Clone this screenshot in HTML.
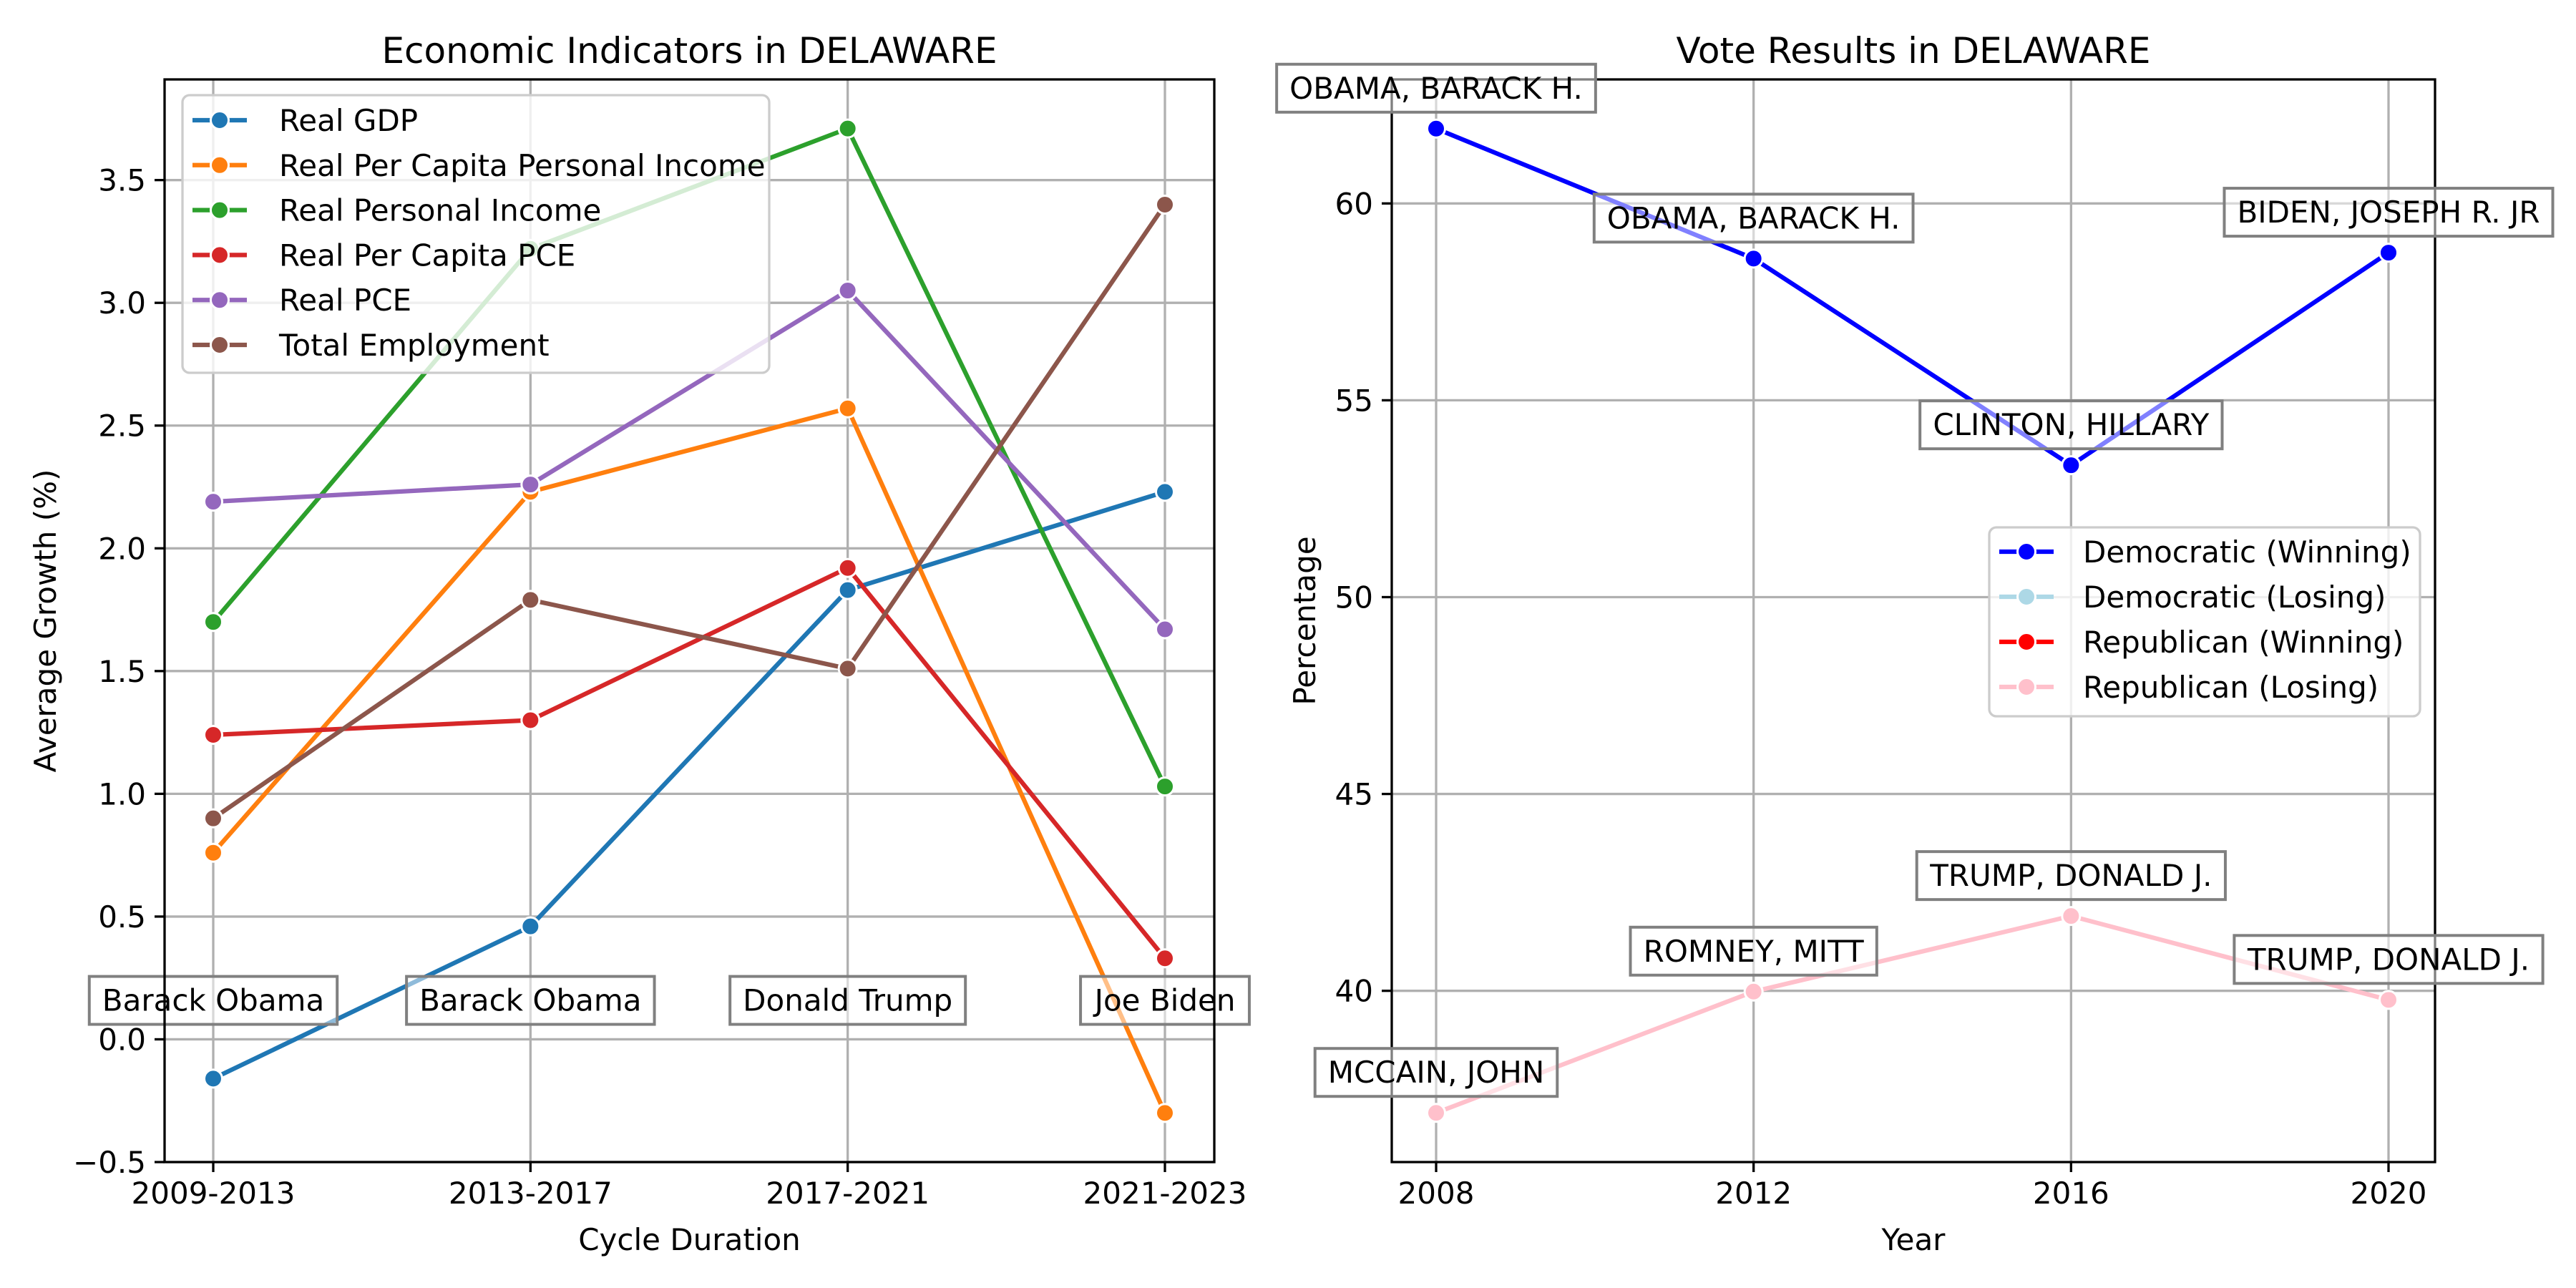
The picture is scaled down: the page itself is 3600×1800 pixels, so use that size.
<!DOCTYPE html>
<html><head><meta charset="utf-8"><style>
html,body{margin:0;padding:0;background:#fff}
svg{display:block}
text{font-family:"DejaVu Sans","Liberation Sans",sans-serif}
</style></head><body>
<svg id="chart" width="3600" height="1800" viewBox="0 0 3600 1800" xmlns="http://www.w3.org/2000/svg">
<rect width="3600" height="1800" fill="#fff"/>
<g id="left"></g>
<g id="right"></g>
</svg>
<script>
const cycles = ["2009-2013","2013-2017","2017-2021","2021-2023"];
const presidents = ["Barack Obama","Barack Obama","Donald Trump","Joe Biden"];
const seriesNames = ["Real GDP","Real Per Capita Personal Income","Real Personal Income","Real Per Capita PCE","Real PCE","Total Employment"];
const gdp = [-0.16,0.46,1.83,2.23];
const perCapitaIncome = [0.76,2.23,2.57,-0.30];
const personalIncome = [1.70,3.22,3.71,1.03];
const perCapitaPce = [1.24,1.30,1.92,0.33];
const realPce = [2.19,2.26,3.05,1.67];
const employment = [0.90,1.79,1.51,3.40];
const leftTicks = [-0.5,0.0,0.5,1.0,1.5,2.0,2.5,3.0,3.5];
const years = [2008,2012,2016,2020];
const demPct = [61.9,58.6,53.35,58.75];
const repPct = [36.9,39.98,41.9,39.77];
const demNames = ["OBAMA, BARACK H.","OBAMA, BARACK H.","CLINTON, HILLARY","BIDEN, JOSEPH R. JR"];
const repNames = ["MCCAIN, JOHN","ROMNEY, MITT","TRUMP, DONALD J.","TRUMP, DONALD J."];
const rightTicks = [40,45,50,55,60];
const voteLegend = ["Democratic (Winning)","Democratic (Losing)","Republican (Winning)","Republican (Losing)"];

const NS="http://www.w3.org/2000/svg";
function mk(parent,tag,attrs,txt){const e=document.createElementNS(NS,tag);for(const k in attrs)e.setAttribute(k,attrs[k]);if(txt!==undefined)e.textContent=txt;parent.appendChild(e);return e;}

const FS=42;
function axesFrame(g,x0,x1,y0,y1){
  mk(g,'rect',{x:x0,y:y0,width:x1-x0,height:y1-y0,fill:'none',stroke:'#000','stroke-width':3.3,});
}
function box(g,cx,cy,label,name){
  const w=label.length*FS*0.6+36;
  const r=mk(g,'rect',{x:cx-w/2,y:cy-33,width:w,height:67,fill:'#fff','fill-opacity':0.5,stroke:'#808080','stroke-width':4});
  
  
  const t=mk(g,'text',{x:cx,y:cy+15,'font-size':FS,'text-anchor':'middle',fill:'#000'},label);
  
  
  const bb=t.getBBox();const W=bb.width+36;r.setAttribute('x',cx-W/2);r.setAttribute('width',W);
}

// LEFT
(function(){
  const g=document.getElementById('left');
  const X0=230,X1=1697,Y0=111,Y1=1624;
  const xs=i=>298+i*(1628-298)/3;
  const ymin=-0.50,ymax=3.91;
  const ys=v=>Y1-(v-ymin)/(ymax-ymin)*(Y1-Y0);
  const grid=mk(g,'g',{});
  cycles.forEach((c,i)=>{mk(grid,'line',{x1:xs(i),x2:xs(i),y1:Y0,y2:Y1,stroke:'#b0b0b0','stroke-width':3.3});
    mk(g,'line',{x1:xs(i),x2:xs(i),y1:Y1,y2:Y1+14,stroke:'#000','stroke-width':3.3});
    const t=mk(g,'text',{x:xs(i),y:Y1+58,'font-size':FS,'text-anchor':'middle'},c);
    });
  leftTicks.forEach(v=>{mk(grid,'line',{x1:X0,x2:X1,y1:ys(v),y2:ys(v),stroke:'#b0b0b0','stroke-width':3.3});
    mk(g,'line',{x1:X0-14,x2:X0,y1:ys(v),y2:ys(v),stroke:'#000','stroke-width':3.3});
    const t=mk(g,'text',{x:X0-26,y:ys(v)+15,'font-size':FS,'text-anchor':'end'},(v<0?'\u2212':'')+Math.abs(v).toFixed(1));
    });
  const colors=['#1f77b4','#ff7f0e','#2ca02c','#d62728','#9467bd','#8c564b'];
  const data=[gdp,perCapitaIncome,personalIncome,perCapitaPce,realPce,employment];
  data.forEach((d,k)=>{
    const sg=mk(g,'g',{});
    
    
    mk(sg,'polyline',{points:d.map((v,i)=>xs(i)+','+ys(v)).join(' '),fill:'none',stroke:colors[k],'stroke-width':6.25,'stroke-linejoin':'round'});
    d.forEach((v,i)=>{const c=mk(sg,'circle',{cx:xs(i),cy:ys(v),r:12.5,fill:colors[k],stroke:'#fff','stroke-width':3});
      });
  });
  presidents.forEach((p,i)=>box(g,xs(i),ys(0.16),p,'president-label'));
  axesFrame(g,X0,X1,Y0,Y1);
  const lg=mk(g,'g',{});
  mk(lg,'rect',{x:255,y:133,width:820,height:388,rx:10,fill:'#fff','fill-opacity':0.8,stroke:'#cccccc','stroke-width':3.3});
  seriesNames.forEach((n,k)=>{const y=168+k*62.8;
    const e=mk(lg,'g',{});
    mk(e,'line',{x1:269,x2:345,y1:y,y2:y,stroke:colors[k],'stroke-width':6.25});
    mk(e,'circle',{cx:307,cy:y,r:12.5,fill:colors[k],stroke:'#fff','stroke-width':3});
    mk(e,'text',{x:390,y:y+15,'font-size':FS},n);});
  const t1=mk(g,'text',{x:(X0+X1)/2,y:88,'font-size':50,'text-anchor':'middle'},'Economic Indicators in DELAWARE');
  
  const t2=mk(g,'text',{x:(X0+X1)/2,y:1747,'font-size':FS,'text-anchor':'middle'},'Cycle Duration');
  
  const t3=mk(g,'text',{x:0,y:0,'font-size':FS,'text-anchor':'middle',transform:'translate(78,'+((Y0+Y1)/2)+') rotate(-90)'},'Average Growth (%)');
  
})();

// RIGHT
(function(){
  const g=document.getElementById('right');
  const X0=1945,X1=3403,Y0=111,Y1=1624;
  const xs=v=>2007+(v-2008)/12*(3338-2007);
  const ymin=35.65,ymax=63.15;
  const ys=v=>Y1-(v-ymin)/(ymax-ymin)*(Y1-Y0);
  const grid=mk(g,'g',{});
  years.forEach(yr=>{mk(grid,'line',{x1:xs(yr),x2:xs(yr),y1:Y0,y2:Y1,stroke:'#b0b0b0','stroke-width':3.3});
    mk(g,'line',{x1:xs(yr),x2:xs(yr),y1:Y1,y2:Y1+14,stroke:'#000','stroke-width':3.3});
    const t=mk(g,'text',{x:xs(yr),y:Y1+58,'font-size':FS,'text-anchor':'middle'},String(yr));
    });
  rightTicks.forEach(v=>{mk(grid,'line',{x1:X0,x2:X1,y1:ys(v),y2:ys(v),stroke:'#b0b0b0','stroke-width':3.3});
    mk(g,'line',{x1:X0-14,x2:X0,y1:ys(v),y2:ys(v),stroke:'#000','stroke-width':3.3});
    const t=mk(g,'text',{x:X0-26,y:ys(v)+15,'font-size':FS,'text-anchor':'end'},String(v));
    });
  [[demPct,'#0000ff','democratic'],[repPct,'#ffc0cb','republican']].forEach(([d,col,nm])=>{
    const sg=mk(g,'g',{});
    mk(sg,'polyline',{points:d.map((v,i)=>xs(years[i])+','+ys(v)).join(' '),fill:'none',stroke:col,'stroke-width':6.25,'stroke-linejoin':'round'});
    d.forEach((v,i)=>{const c=mk(sg,'circle',{cx:xs(years[i]),cy:ys(v),r:12.5,fill:col,stroke:'#fff','stroke-width':3});
      });
  });
  axesFrame(g,X0,X1,Y0,Y1);
  demNames.forEach((n,i)=>box(g,xs(years[i]),ys(demPct[i])-57,n,'candidate-label'));
  repNames.forEach((n,i)=>box(g,xs(years[i]),ys(repPct[i])-57,n,'candidate-label'));
  const lg=mk(g,'g',{});
  mk(lg,'rect',{x:2780,y:737,width:602,height:264,rx:10,fill:'#fff','fill-opacity':0.8,stroke:'#cccccc','stroke-width':3.3});
  const lc=['#0000ff','#add8e6','#ff0000','#ffc0cb'];
  voteLegend.forEach((n,k)=>{const y=771+k*63;
    const e=mk(lg,'g',{});
    mk(e,'line',{x1:2794,x2:2870,y1:y,y2:y,stroke:lc[k],'stroke-width':6.25});
    mk(e,'circle',{cx:2832,cy:y,r:12.5,fill:lc[k],stroke:'#fff','stroke-width':3});
    mk(e,'text',{x:2911,y:y+15,'font-size':FS},n);});
  const t1=mk(g,'text',{x:(X0+X1)/2,y:88,'font-size':50,'text-anchor':'middle'},'Vote Results in DELAWARE');
  
  const t2=mk(g,'text',{x:(X0+X1)/2,y:1747,'font-size':FS,'text-anchor':'middle'},'Year');
  
  const t3=mk(g,'text',{x:0,y:0,'font-size':FS,'text-anchor':'middle',transform:'translate(1838,'+((Y0+Y1)/2)+') rotate(-90)'},'Percentage');
  
})();
</script>
</body></html>
